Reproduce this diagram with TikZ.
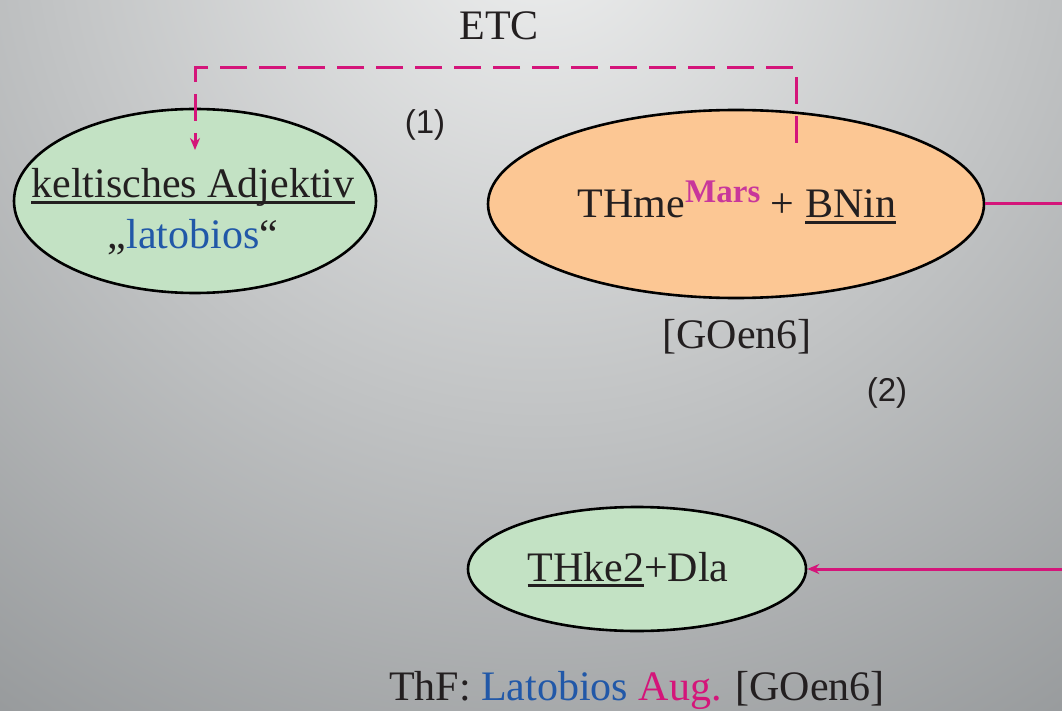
\documentclass[tikz,border=0pt]{standalone}
\usepackage{fontspec}
\setmainfont{Liberation Serif}
\newfontfamily\labsans{Liberation Sans}
\usetikzlibrary{arrows.meta,shapes.geometric}
\definecolor{bgin}{HTML}{EEEFEF}
\definecolor{bgout}{HTML}{949799}
\definecolor{greenfill}{HTML}{C3E2C4}
\definecolor{orangefill}{HTML}{FCC794}
\definecolor{mag}{HTML}{D4157A}
\definecolor{marscol}{HTML}{C8379B}
\definecolor{bluetxt}{HTML}{2158A8}
\definecolor{txt}{HTML}{231F20}
\newcommand\myul[1]{\setbox0\hbox{#1}\rlap{\rule[-6pt]{\wd0}{2.6pt}}\box0}
\tikzset{
  bubble/.style={ellipse, draw=black, line width=2.6pt, inner sep=0pt},
  serifbig/.style={font=\fontsize{42}{50}\selectfont, text=txt},
  numlab/.style={font=\labsans\fontsize{33}{38}\selectfont, text=txt},
  conn/.style={draw=mag, line width=3pt},
  dashconn/.style={conn, dash pattern=on 27pt off 12pt},
  tip/.style={-{Stealth[length=12pt,width=10pt]}}
}
\begin{document}
\begin{tikzpicture}[x=1pt,y=-1pt]
\useasboundingbox (0,0) rectangle (1062,711);
\begin{scope}
\clip (0,0) rectangle (1062,711);
\shade[inner color=bgin, outer color=bgout] (540,-80) circle (1000);
% bubbles
\node[bubble, fill=greenfill, minimum width=362pt, minimum height=184pt] (left) at (195,201) {};
\node[bubble, fill=orangefill, minimum width=496pt, minimum height=188pt] (orange) at (736,204) {};
\node[bubble, fill=greenfill, minimum width=338pt, minimum height=124pt] (low) at (637,569) {};
\coordinate (lefttop) at (195,150);
\coordinate (orgtop) at (796,143);
\coordinate (c1) at (195,68);
\coordinate (c2) at (796,68);
\coordinate (rr) at (1075,0);
% connectors
\draw[dashconn, tip] (orgtop) -- (c2) -- (c1) -- (lefttop);
\draw[conn, tip] (orange.east) -- (orange.east -| rr) |- (low.east);
\end{scope}
% texts
\node[serifbig, anchor=base] (etc) at (499,40) {ETC};
\node[numlab, anchor=base] (n1) at (425,134) {(1)};
\node[numlab, anchor=base] (n2) at (887,401) {(2)};
\node[serifbig, anchor=base] (lt1) at (193,198) {\myul{keltisches Adjektiv}};
\node[serifbig, anchor=base] (lt2) at (193,248) {„\textcolor{bluetxt}{latobios}“};
\node[serifbig, anchor=base] (ot) at (737,218) {THme\raisebox{15pt}{\fontsize{33}{38}\selectfont\bfseries\color{marscol}Mars} + \myul{BNin}};
\node[serifbig, anchor=base] (src1) at (737,348) {[GOen6]};
\node[serifbig, anchor=base] (lowt) at (628,581) {\myul{THke2}+Dla};
\node[serifbig, anchor=base] (foot) at (637,700) {ThF: \textcolor{bluetxt}{Latobios} \textcolor{mag}{Aug.} [GOen6]};
\end{tikzpicture}
\end{document}
